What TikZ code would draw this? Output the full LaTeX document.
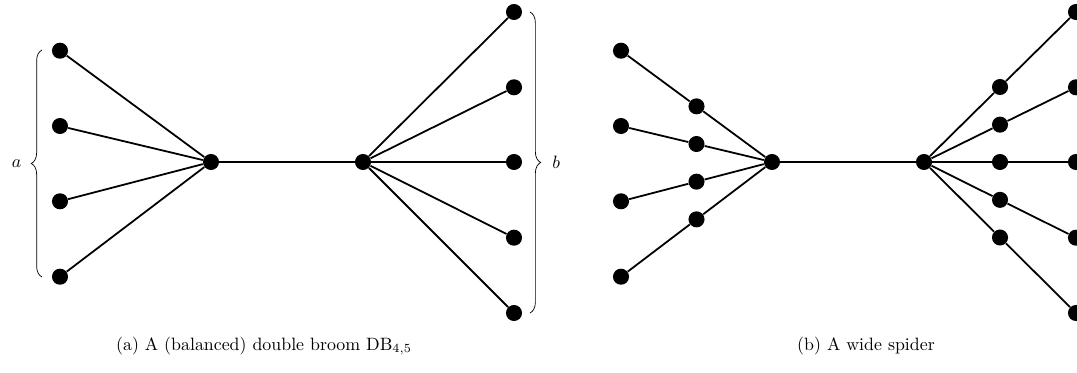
\documentclass[tikz,border=0pt]{standalone}
\usetikzlibrary{decorations.pathreplacing}
\begin{document}
\begin{tikzpicture}[x=0.56pt,y=-0.56pt,
  vtx/.style={circle,fill=black,inner sep=0pt,minimum size=9pt},
  edge/.style={line width=1pt},
  brc/.style={decorate,decoration={brace,amplitude=6pt},line width=0.4pt}]
\useasboundingbox (0,0) rectangle (1077,372);
% (a) double broom
\node[vtx] (c1) at (211,162) {};
\node[vtx] (c2) at (363,162) {};
\foreach \i/\y in {1/50.7,2/126,3/201.3,4/276.7} {
  \node[vtx] (l\i) at (60,\y) {};
  \draw[edge] (l\i) -- (c1);
}
\foreach \i/\y in {1/12,2/87.3,3/162,4/237.7,5/313} {
  \node[vtx] (r\i) at (514,\y) {};
  \draw[edge] (c2) -- (r\i);
}
\draw[edge] (c1) -- (c2);
\coordinate (ba1) at (42,277);
\coordinate (ba2) at (42,50);
\draw[brc] (ba1) -- node[left=8pt] {$a$} (ba2);
\coordinate (bb1) at (530,12);
\coordinate (bb2) at (530,313);
\draw[brc] (bb1) -- node[right=9pt] {$b$} (bb2);
\node (capa) at (264,346) {(a) A (balanced) double broom $\mathrm{DB}_{4,5}$};
% (b) wide spider
\node[vtx] (d1) at (772,162) {};
\node[vtx] (d2) at (924,162) {};
\draw[edge] (d1) -- (d2);
\foreach \i/\y in {1/50.7,2/126,3/201.3,4/276.7} {
  \node[vtx] (p\i) at (621,\y) {};
  \path (p\i) -- (d1) coordinate[pos=0.5] (pm\i);
  \node[vtx] (m\i) at (pm\i) {};
  \draw[edge] (p\i) -- (m\i) -- (d1);
}
\foreach \i/\y in {1/12,2/87.3,3/162,4/237.7,5/313} {
  \node[vtx] (q\i) at (1076,\y) {};
  \path (d2) -- (q\i) coordinate[pos=0.5] (qm\i);
  \node[vtx] (n\i) at (qm\i) {};
  \draw[edge] (d2) -- (n\i) -- (q\i);
}
\node (capb) at (866,346) {(b) A wide spider};
\end{tikzpicture}
\end{document}
